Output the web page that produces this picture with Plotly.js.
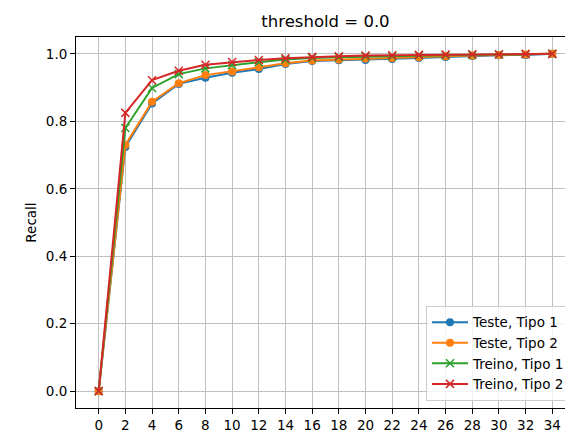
<!DOCTYPE html>
<html>
<head>
<meta charset="utf-8">
<script src="https://cdn.plot.ly/plotly-3.0.1.min.js"></script>
<style>
html, body { margin: 0; padding: 0; overflow: hidden; background: #fff; }
#chart { width: 580px; height: 432px; }
</style>
</head>
<body>
<div id="chart"></div>
<script>
const xs = [0, 2, 4, 6, 8, 10, 12, 14, 16, 18, 20, 22, 24, 26, 28, 30, 32, 34];
const testeTipo1 = [0, 0.724, 0.853, 0.911, 0.929, 0.944, 0.955, 0.970, 0.979, 0.981, 0.982, 0.985, 0.988, 0.991, 0.994, 0.996, 0.997, 1.0];
const testeTipo2 = [0, 0.730, 0.858, 0.913, 0.937, 0.948, 0.960, 0.972, 0.980, 0.983, 0.986, 0.988, 0.990, 0.993, 0.995, 0.997, 0.998, 1.0];
const treinoTipo1 = [0, 0.780, 0.899, 0.940, 0.957, 0.967, 0.975, 0.983, 0.988, 0.990, 0.992, 0.993, 0.995, 0.996, 0.997, 0.998, 0.999, 1.0];
const treinoTipo2 = [0, 0.825, 0.922, 0.950, 0.968, 0.976, 0.982, 0.987, 0.991, 0.993, 0.995, 0.996, 0.997, 0.998, 0.999, 0.999, 1.0, 1.0];
const names = ["Teste, Tipo 1", "Teste, Tipo 2", "Treino, Tipo 1", "Treino, Tipo 2"];
const xTicks = [0, 2, 4, 6, 8, 10, 12, 14, 16, 18, 20, 22, 24, 26, 28, 30, 32, 34];
const yTicks = [0, 0.2, 0.4, 0.6, 0.8, 1.0];

const colors = ["#1f77b4", "#ff7f0e", "#2ca02c", "#d62728"];
const series = [testeTipo1, testeTipo2, treinoTipo1, treinoTipo2];
const traces = series.map((ys, i) => {
  const isX = i >= 2;
  return {
    x: xs, y: ys, name: names[i], type: "scatter", mode: "lines+markers",
    line: { color: colors[i], width: 2 },
    marker: isX
      ? { symbol: "x-thin", size: 8, color: colors[i], line: { color: colors[i], width: 1.5 } }
      : { symbol: "circle", size: 8, color: colors[i] }
  };
});

const font = { family: "DejaVu Sans, sans-serif", size: 13.5, color: "#000" };
const layout = {
  width: 580, height: 432,
  margin: { l: 76, r: 5, t: 37, b: 24, pad: 0 },
  paper_bgcolor: "#fff", plot_bgcolor: "#fff",
  font: font,
  showlegend: true,
  title: { text: "threshold = 0.0", font: { family: "DejaVu Sans, sans-serif", size: 16.5, color: "#000" }, x: 0.5, xref: "paper", xanchor: "center", y: 1, yref: "container", yanchor: "top", pad: { t: 15 } },
  xaxis: {
    range: [-1.7, 35.7], tickvals: xTicks, ticktext: xTicks.map(String),
    showgrid: true, gridcolor: "#c0c0c0", gridwidth: 1,
    showline: true, linecolor: "#000", linewidth: 1, mirror: true,
    ticks: "outside", ticklen: 5, tickwidth: 1, tickcolor: "#000",
    zeroline: false, tickfont: font
  },
  yaxis: {
    range: [-0.05, 1.05], tickvals: yTicks, ticktext: yTicks.map(v => v.toFixed(1)),
    showgrid: true, gridcolor: "#c0c0c0", gridwidth: 1,
    showline: true, linecolor: "#000", linewidth: 1, mirror: true,
    ticks: "outside", ticklen: 5, tickwidth: 1, tickcolor: "#000",
    zeroline: false, tickfont: font,
    title: { text: "Recall", font: font, standoff: 6 }
  },
  legend: {
    x: 0.992, y: 0.019, xanchor: "right", yanchor: "bottom",
    bgcolor: "rgba(255,255,255,0.8)", bordercolor: "#cccccc", borderwidth: 1,
    font: font, tracegroupgap: 0, itemwidth: 36
  }
};

Plotly.newPlot("chart", traces, layout, { displayModeBar: false, staticPlot: true });
</script>
</body>
</html>
